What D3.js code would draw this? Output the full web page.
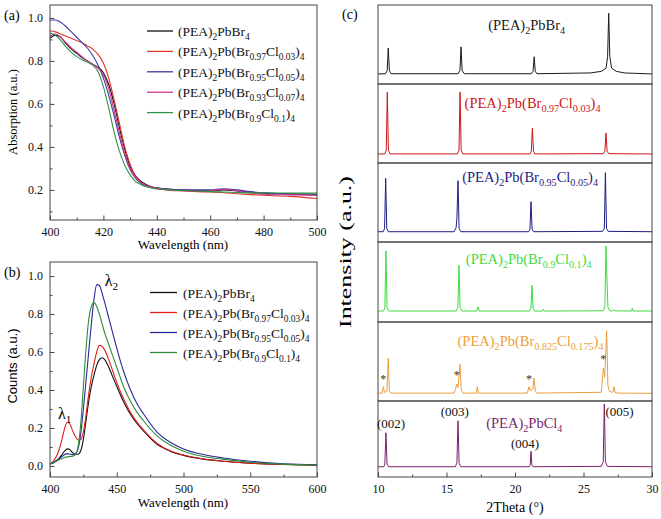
<!DOCTYPE html>
<html>
<head>
<meta charset="utf-8">
<script src="https://cdn.jsdelivr.net/npm/d3@7"></script>
<style>
  body { margin: 0; background: #fff; }
  svg text { font-family: "Liberation Serif", "Times New Roman", Times, "DejaVu Serif", serif; }
  svg text.sans { font-family: "Liberation Sans", Arial, "DejaVu Sans", sans-serif; }
</style>
</head>
<body>
<svg width="661" height="519"></svg>
<script>
// DATA
// (a) absorption
var absWave = [400,402,404,406,408,410,412,414,416,418,420,422,424,426,428,430,432,434,436,438,440,445,450,455,460,465,470,475,480,490,500];
var absBr    = [.905,.92,.91,.88,.855,.835,.815,.80,.785,.77,.745,.69,.60,.49,.39,.31,.265,.24,.225,.215,.21,.203,.199,.197,.196,.20,.195,.19,.185,.182,.18];
var absCl003 = [.94,.935,.925,.915,.905,.895,.885,.87,.855,.83,.79,.72,.62,.51,.40,.32,.265,.235,.22,.21,.205,.198,.195,.192,.19,.187,.182,.178,.175,.17,.16];
var absCl005 = [.99,.99,.98,.96,.935,.91,.885,.86,.825,.78,.72,.64,.545,.445,.36,.295,.255,.232,.22,.212,.208,.203,.20,.20,.20,.205,.20,.192,.186,.18,.175];
var absCl007 = [.915,.925,.91,.885,.86,.84,.82,.80,.785,.765,.735,.67,.57,.465,.37,.30,.258,.235,.222,.213,.207,.20,.196,.194,.195,.203,.196,.186,.18,.177,.175];
var absCl01  = [.93,.92,.895,.865,.84,.82,.805,.795,.78,.75,.68,.58,.47,.38,.315,.27,.24,.225,.215,.209,.205,.20,.197,.195,.192,.19,.188,.186,.186,.185,.185];

// (b) photoluminescence
var plWave = [400,403,406,409,411,413,415,417,419,421,423,425,427,429,431,433,435,437,439,441,444,447,450,455,460,465,470,480,490,500,515,530,550,575,600];
var plBr    = [.01,.02,.035,.06,.08,.09,.085,.07,.062,.062,.08,.14,.24,.34,.42,.48,.53,.56,.57,.56,.52,.47,.42,.34,.275,.225,.185,.115,.078,.056,.036,.025,.015,.008,.004];
var plCl003 = [.01,.03,.07,.14,.20,.23,.22,.185,.155,.137,.14,.18,.27,.38,.47,.54,.60,.635,.63,.61,.56,.50,.44,.355,.285,.232,.19,.12,.08,.058,.037,.025,.015,.008,.004];
var plCl005 = [.01,.02,.035,.05,.06,.065,.062,.06,.065,.09,.17,.30,.45,.60,.75,.88,.955,.95,.91,.86,.78,.70,.62,.50,.405,.33,.275,.18,.125,.09,.06,.042,.025,.012,.006];
var plCl01  = [.01,.018,.03,.04,.045,.048,.05,.052,.06,.10,.22,.42,.62,.77,.84,.86,.84,.80,.75,.70,.64,.58,.52,.42,.345,.285,.238,.16,.11,.078,.05,.035,.02,.01,.005];

// (c) XRD patterns, [2theta, normalised intensity]
var xrdBr = [[10,.127],[10.55,.13],[10.67,.17],[10.75,.456],[10.83,.17],[10.95,.13],[15.85,.13],[15.98,.17],[16.06,.47],[16.14,.17],[16.3,.13],
  [21.2,.13],[21.32,.16],[21.4,.345],[21.48,.16],[21.6,.13],[25.5,.14],[26.3,.16],[26.65,.2],[26.76,.35],[26.84,.895],[26.92,.35],[27.05,.2],[27.4,.16],[28,.14],[30,.127]];
var xrdCl003 = [[10,.114],[10.5,.115],[10.6,.16],[10.68,.895],[10.76,.16],[10.88,.115],[15.8,.115],[15.91,.16],[15.99,.90],[16.07,.16],[16.2,.115],
  [21.1,.115],[21.19,.15],[21.27,.44],[21.35,.15],[21.45,.115],[26.45,.118],[26.56,.15],[26.64,.38],[26.72,.15],[26.85,.118],[30,.114]];
var xrdCl005 = [[10,.13],[10.38,.13],[10.48,.17],[10.56,.806],[10.64,.17],[10.76,.13],[15.55,.13],[15.7,.18],[15.76,.3],[15.84,.776],[15.92,.17],[16.05,.13],
  [21.0,.13],[21.09,.16],[21.17,.51],[21.25,.16],[21.35,.13],[26.4,.135],[26.52,.17],[26.6,.877],[26.68,.17],[26.8,.135],[30,.13]];
var xrdCl01 = [[10,.137],[10.4,.137],[10.5,.18],[10.58,.89],[10.66,.18],[10.78,.137],[15.7,.137],[15.83,.18],[15.91,.71],[15.99,.18],[16.12,.137],
  [17.2,.137],[17.3,.19],[17.4,.137],[21.05,.137],[21.16,.17],[21.24,.46],[21.32,.17],[21.45,.137],[22.0,.137],[22.07,.16],[22.14,.137],
  [26.45,.14],[26.56,.19],[26.64,.95],[26.7,.6],[26.78,.19],[26.92,.14],[27.1,.14],[27.2,.15],[27.3,.14],[28.5,.137],[28.56,.17],[28.62,.137],[30,.137]];
var xrdCl0175 = [[10,.097],[10.3,.1],[10.39,.18],[10.47,.11],[10.65,.12],[10.75,.54],[10.83,.13],[10.95,.1],[15.55,.1],[15.66,.15],[15.74,.215],[15.84,.17],[15.99,.465],[16.08,.14],[16.2,.1],
  [17.18,.1],[17.25,.18],[17.32,.1],[20.9,.1],[21.02,.18],[21.12,.13],[21.3,.15],[21.39,.29],[21.48,.13],[21.6,.1],
  [26.3,.11],[26.45,.415],[26.55,.3],[26.69,.89],[26.78,.2],[26.9,.12],[27.15,.11],[27.23,.18],[27.3,.11],[27.5,.1],[30,.097]];
var xrdCl = [[10,.135],[10.42,.135],[10.5,.17],[10.58,.582],[10.66,.17],[10.78,.135],[15.65,.135],[15.76,.19],[15.84,.74],[15.92,.18],[16.05,.135],
  [21.05,.135],[21.11,.16],[21.17,.34],[21.23,.16],[21.32,.135],[26.3,.14],[26.44,.2],[26.52,.96],[26.6,.2],[26.75,.14],[30,.135]];

var impurity = [[10.39,.31],[15.74,.355],[21.02,.30],[26.45,.56]];
var millerText = ["(002)","(003)","(004)","(005)"];
var millerPos = [[10.95,.64],[15.6,.80],[20.73,.38],[27.63,.80]];

// labels, {..} = subscript
var absNames = ["(PEA){2}PbBr{4}","(PEA){2}Pb(Br{0.97}Cl{0.03}){4}","(PEA){2}Pb(Br{0.95}Cl{0.05}){4}","(PEA){2}Pb(Br{0.93}Cl{0.07}){4}","(PEA){2}Pb(Br{0.9}Cl{0.1}){4}"];
var plNames = ["(PEA){2}PbBr{4}","(PEA){2}Pb(Br{0.97}Cl{0.03}){4}","(PEA){2}Pb(Br{0.95}Cl{0.05}){4}","(PEA){2}Pb(Br{0.9}Cl{0.1}){4}"];
var xrdNames = ["(PEA){2}PbBr{4}","(PEA){2}Pb(Br{0.97}Cl{0.03}){4}","(PEA){2}Pb(Br{0.95}Cl{0.05}){4}","(PEA){2}Pb(Br{0.9}Cl{0.1}){4}","(PEA){2}Pb(Br{0.825}Cl{0.175}){4}","(PEA){2}PbCl{4}"];
var xrdNamePos = [[20.85,.68],[21.28,.70],[21.1,.76],[21.0,.72],[21.13,.70],[20.68,.64]];

// SETUP
var svg = d3.select("svg");
svg.append("rect").attr("width", 661).attr("height", 519).attr("fill", "#fff");

var absColors = ["#111", "#e0352b", "#3a3aa6", "#d4358f", "#2e9444"];
var plColors = ["#111", "#e41c1c", "#28289a", "#2e8b3c"];
var xrdColors = ["#1a1a1a", "#cc1515", "#1c1c84", "#3fdc3f", "#eb9f3c", "#7a1f6c"];

function richText(sel, str, size) {
  var parts = str.split(/([{}])/), sub = false;
  parts.forEach(function (p) {
    if (p === "{") { sub = true; return; }
    if (p === "}") { sub = false; return; }
    if (!p) return;
    sel.append("tspan")
      .attr("font-size", sub ? size * 0.7 : size)
      .attr("baseline-shift", sub ? -size * 0.28 : 0)
      .text(p);
  });
}

function frame(x0, y0, x1, y1) {
  svg.append("rect")
    .attr("x", x0).attr("y", y0)
    .attr("width", x1 - x0).attr("height", y1 - y0)
    .attr("fill", "none").attr("stroke", "#444").attr("stroke-width", 1);
}

function bottomAxis(x, y, major, minor) {
  var g = svg.append("g").attr("transform", "translate(0," + y + ")");
  g.call(d3.axisBottom(x).tickValues(minor).tickSize(-2.5).tickSizeOuter(0).tickFormat(""));
  g.append("g").call(d3.axisBottom(x).tickValues(major).tickSize(-4.5).tickSizeOuter(0).tickPadding(7));
  g.selectAll("g").attr("font-family", null);
  g.attr("font-family", null);
  g.selectAll(".domain").remove();
  g.selectAll("line").attr("stroke", "#444");
  g.selectAll("text").attr("font-size", 12).attr("fill", "#111");
}

function leftAxis(y, x, major, minor, fmt) {
  var g = svg.append("g").attr("transform", "translate(" + x + ",0)");
  g.call(d3.axisLeft(y).tickValues(minor).tickSize(-2.5).tickSizeOuter(0).tickFormat(""));
  g.append("g").call(d3.axisLeft(y).tickValues(major).tickSize(-4.5).tickSizeOuter(0).tickPadding(7).tickFormat(d3.format(fmt)));
  g.selectAll("g").attr("font-family", null);
  g.attr("font-family", null);
  g.selectAll(".domain").remove();
  g.selectAll("line").attr("stroke", "#444");
  g.selectAll("text").attr("font-size", 12).attr("fill", "#111");
}

// (a) ABSORPTION
var xA = d3.scaleLinear().domain([400, 500]).range([50, 317]),
    yA = d3.scaleLinear().domain([0.06, 1.06]).range([220, 5]);

var lineA = d3.line()
  .x(function (d, i) { return xA(absWave[i]); })
  .y(function (d) { return yA(d); })
  .curve(d3.curveMonotoneX);

[absBr, absCl003, absCl005, absCl007, absCl01].forEach(function (s, i) {
  svg.append("path").datum(s)
    .attr("fill", "none").attr("stroke", absColors[i]).attr("stroke-width", 1.1)
    .attr("d", lineA);
});

frame(50, 5, 317, 220);
bottomAxis(xA, 220, d3.range(400, 501, 20), d3.range(410, 500, 20));
leftAxis(yA, 50, [0.2, 0.4, 0.6, 0.8, 1.0], [0.1, 0.3, 0.5, 0.7, 0.9], ".1f");

svg.append("text").attr("x", 183).attr("y", 249).attr("text-anchor", "middle")
  .attr("font-size", 13).text("Wavelength (nm)");
svg.append("text").attr("transform", "translate(17,112) rotate(-90)").attr("text-anchor", "middle")
  .attr("font-size", 12.5).text("Absorption (a.u.)");
svg.append("text").attr("x", 4).attr("y", 20).attr("font-size", 14).text("(a)");

absNames.forEach(function (n, i) {
  var yy = 31 + i * 20.4;
  svg.append("line").attr("x1", 147).attr("x2", 173).attr("y1", yy).attr("y2", yy)
    .attr("stroke", absColors[i]).attr("stroke-width", 1.3);
  richText(svg.append("text").attr("x", 178).attr("y", yy + 5).attr("fill", "#111"), n, 13.5);
});

// (b) PL
var xB = d3.scaleLinear().domain([400, 600]).range([50, 317]),
    yB = d3.scaleLinear().domain([-0.058, 1.074]).range([477, 262]);

var lineB = d3.line()
  .x(function (d, i) { return xB(plWave[i]); })
  .y(function (d) { return yB(d); })
  .curve(d3.curveMonotoneX);

[plBr, plCl003, plCl005, plCl01].forEach(function (s, i) {
  svg.append("path").datum(s)
    .attr("fill", "none").attr("stroke", plColors[i]).attr("stroke-width", 1.1)
    .attr("d", lineB);
});

frame(50, 262, 317, 477);
bottomAxis(xB, 477, d3.range(400, 601, 50), d3.range(425, 600, 50));
leftAxis(yB, 50, [0, 0.2, 0.4, 0.6, 0.8, 1.0], [0.1, 0.3, 0.5, 0.7, 0.9], ".1f");

svg.append("text").attr("x", 183).attr("y", 507).attr("text-anchor", "middle")
  .attr("font-size", 13).text("Wavelength (nm)");
svg.append("text").attr("class", "sans").attr("transform", "translate(17,366) rotate(-90)").attr("text-anchor", "middle")
  .attr("font-size", 13).text("Counts (a.u.)");
svg.append("text").attr("x", 4).attr("y", 277).attr("font-size", 14).text("(b)");

plNames.forEach(function (n, i) {
  var yy = 292.5 + i * 20;
  svg.append("line").attr("x1", 150).attr("x2", 177).attr("y1", yy).attr("y2", yy)
    .attr("stroke", plColors[i]).attr("stroke-width", 1.3);
  richText(svg.append("text").attr("x", 183).attr("y", yy + 5).attr("fill", "#111"), n, 13.5);
});

// peak labels
richText(svg.append("text").attr("x", xB(411)).attr("y", yB(0.25)).attr("text-anchor", "middle"), "λ{1}", 16);
richText(svg.append("text").attr("x", xB(446)).attr("y", yB(0.95)).attr("text-anchor", "middle"), "λ{2}", 16);

// (c) XRD
var xC = d3.scaleLinear().domain([10, 30]).range([378, 652]);
var bands = [5, 84, 163, 242, 322, 401, 477];

var patterns = [xrdBr, xrdCl003, xrdCl005, xrdCl01, xrdCl0175, xrdCl];
patterns.forEach(function (pts, i) {
  var y = d3.scaleLinear().domain([0, 1]).range([bands[i + 1], bands[i]]);
  var line = d3.line()
    .x(function (d) { return xC(d[0]); })
    .y(function (d) { return y(d[1]); });
  svg.append("path").datum(pts)
    .attr("fill", "none").attr("stroke", xrdColors[i]).attr("stroke-width", 1)
    .attr("d", line);
  frame(378, bands[i], 652, bands[i + 1]);
  richText(svg.append("text")
    .attr("x", xC(xrdNamePos[i][0])).attr("y", y(xrdNamePos[i][1]))
    .attr("text-anchor", "middle").attr("fill", xrdColors[i]), xrdNames[i], 14.5);

  if (i === 4) {
    svg.selectAll(".star").data(impurity).enter().append("text")
      .attr("x", function (d) { return xC(d[0]); })
      .attr("y", function (d) { return y(d[1]) + 6; })
      .attr("text-anchor", "middle").attr("font-size", 12).attr("fill", "#333")
      .text("*");
  }
  if (i === 5) {
    svg.selectAll(".miller").data(millerPos).enter().append("text")
      .attr("x", function (d) { return xC(d[0]); })
      .attr("y", function (d) { return y(d[1]); })
      .attr("text-anchor", "middle").attr("font-size", 13).attr("fill", "#111")
      .text(function (d, j) { return millerText[j]; });
  }
});

bottomAxis(xC, 477, d3.range(10, 31, 5), d3.range(12.5, 30, 5));

svg.append("text").attr("x", 515).attr("y", 512).attr("text-anchor", "middle")
  .attr("font-size", 14).text("2Theta (°)");
svg.append("text").attr("transform", "translate(351,252) rotate(-90)").attr("text-anchor", "middle")
  .attr("font-size", 16.5).attr("textLength", 152).attr("lengthAdjust", "spacingAndGlyphs")
  .text("Intensity (a.u.)");
svg.append("text").attr("x", 342).attr("y", 19).attr("font-size", 14).text("(c)");
</script>
</body>
</html>
